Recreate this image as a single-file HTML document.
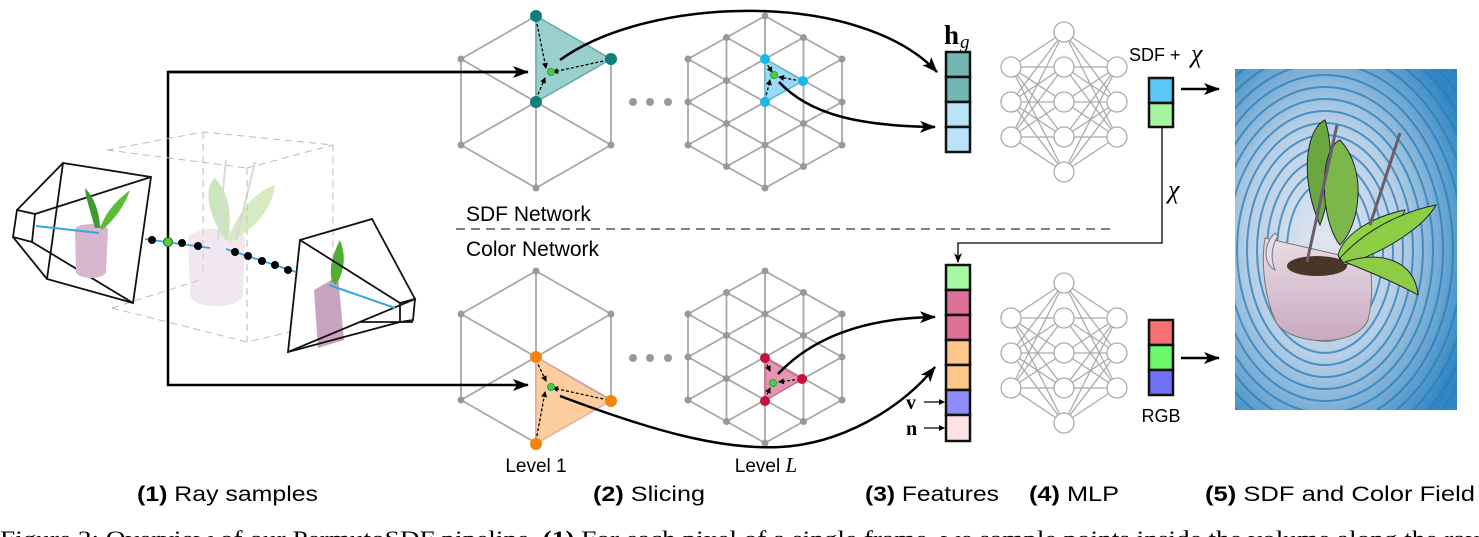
<!DOCTYPE html>
<html><head><meta charset="utf-8"><style>
html,body{margin:0;padding:0;background:#fff;overflow:hidden}
body{width:1479px;height:537px;position:relative;font-family:"Liberation Sans",sans-serif}
svg{position:absolute;left:0;top:0}
.cap{font-family:"Liberation Sans",sans-serif;font-size:21px;fill:#000}
</style></head><body>
<svg id="s" width="1479" height="537" viewBox="0 0 1479 537" xmlns="http://www.w3.org/2000/svg">
<defs>
<marker id="ah" markerWidth="10" markerHeight="8" refX="9" refY="4" orient="auto" markerUnits="userSpaceOnUse"><path d="M0,0 L10,4 L0,8 L3,4 z" fill="#000"/></marker>
<marker id="ahb" markerWidth="16" markerHeight="12" refX="15" refY="6" orient="auto" markerUnits="userSpaceOnUse"><path d="M0,0 L16,6 L0,12 L4,6 z" fill="#000"/></marker>
<marker id="ahs" markerWidth="6" markerHeight="6" refX="5" refY="3" orient="auto" markerUnits="userSpaceOnUse"><path d="M0,0 L6,3 L0,6 z" fill="#000"/></marker>
<radialGradient id="bg" cx="0.4" cy="0.5" r="0.7"><stop offset="0" stop-color="#e2e6f0"/><stop offset="0.5" stop-color="#b6cfe6"/><stop offset="1" stop-color="#2f86c4"/></radialGradient>
<linearGradient id="pot" x1="0" y1="0" x2="0" y2="1"><stop offset="0" stop-color="#e8dde4"/><stop offset="1" stop-color="#c9a9bf"/></linearGradient>
</defs>
<g id="grids" stroke="#a8a8a8" stroke-width="1.8" fill="none"></g>
<g id="dots" fill="#999"></g>

<polygon points="536,16 611,59 536,102" fill="#7fc4c0" fill-opacity="0.8" stroke="#5aa"/>
<polygon points="765,59 803,81 765,102" fill="#8fd6f5" fill-opacity="0.9" stroke="#4bc"/>
<polygon points="536,357 611,401 536,444" fill="#fcc994" fill-opacity="0.9" stroke="#e9a"/>
<polygon points="765,358 802,379 765,401" fill="#e08aa8" fill-opacity="0.9" stroke="#c57"/>
<g stroke="#000" stroke-width="1.3" stroke-dasharray="3,2" marker-end="url(#ahs)">
<line x1="536" y1="19" x2="546" y2="68"/><line x1="608" y1="60" x2="553" y2="72"/><line x1="536" y1="99" x2="545" y2="78"/>
<line x1="765" y1="61" x2="772" y2="72"/><line x1="801" y1="81" x2="779" y2="77"/><line x1="765" y1="100" x2="770" y2="80"/>
<line x1="536" y1="360" x2="546" y2="381"/><line x1="608" y1="400" x2="553" y2="388"/><line x1="536" y1="441" x2="545" y2="392"/>
<line x1="765" y1="360" x2="770" y2="371"/><line x1="800" y1="379" x2="779" y2="382"/><line x1="765" y1="399" x2="770" y2="388"/>
</g>
<g fill="#0f7f7b"><circle cx="536" cy="16" r="6"/><circle cx="611" cy="59" r="6"/><circle cx="536" cy="102" r="6"/></g>
<g fill="#1ab4ee"><circle cx="765" cy="59" r="5"/><circle cx="803" cy="81" r="5"/><circle cx="765" cy="102" r="5"/></g>
<g fill="#f7830f"><circle cx="536" cy="357" r="6"/><circle cx="611" cy="401" r="6"/><circle cx="536" cy="444" r="6"/></g>
<g fill="#c8113f"><circle cx="765" cy="358" r="5"/><circle cx="802" cy="379" r="5"/><circle cx="765" cy="401" r="5"/></g>
<g fill="#5cc63c" stroke="#1a4" stroke-width="1"><circle cx="551" cy="72" r="3.5"/><circle cx="774" cy="75" r="3.5"/><circle cx="551" cy="387" r="3.5"/><circle cx="773" cy="383" r="3.5"/></g>
<g fill="#999"><circle cx="633" cy="102" r="4"/><circle cx="650" cy="102" r="4"/><circle cx="668" cy="102" r="4"/><circle cx="633" cy="358" r="4"/><circle cx="650" cy="358" r="4"/><circle cx="668" cy="358" r="4"/></g>

<text x="536" y="472" font-size="19" text-anchor="middle">Level 1</text>
<text x="766" y="472" font-size="19" text-anchor="middle">Level <tspan font-family="Liberation Serif" font-style="italic" font-size="21">L</tspan></text>

<g stroke="#000" stroke-width="2.5" fill="none" marker-end="url(#ahb)">
<path d="M560,60 C650,-5 860,-10 937,72"/>
<path d="M779,82 C810,115 860,126 935,127"/>
<path d="M778,374 C810,340 860,318 935,317"/>
<path d="M560,396 C650,430 720,450 780,447 C840,444 900,410 935,367"/>
</g>

<g stroke="#000" stroke-width="2.5" fill="none">
<polyline points="528,72 168,72 168,385 528,385" marker-end="url(#ahb)"/>
<line x1="168" y1="72" x2="528" y2="72" marker-end="url(#ahb)"/>
</g>

<g stroke="#bbb" stroke-width="1" fill="none" stroke-dasharray="7,5">
<polyline points="107,150 203,132 333,145 333,290"/><line x1="107" y1="150" x2="247" y2="168"/><line x1="247" y1="168" x2="333" y2="145"/>
<line x1="247" y1="168" x2="247" y2="342"/><line x1="203" y1="132" x2="203" y2="275"/>
<polyline points="112,308 247,342 290,332"/><line x1="112" y1="308" x2="200" y2="280"/>
</g>
<g opacity="0.55">
<path d="M188,240 C188,225 245,225 245,240 L243,295 C240,310 192,310 190,295 Z" fill="#e6d6e2"/>
<path d="M225,240 C205,210 205,185 215,178 C230,195 232,215 228,240Z" fill="#a6d18a"/>
<path d="M228,240 C240,205 260,190 275,185 C272,210 255,228 230,242Z" fill="#b5dc8f"/>
<line x1="218" y1="240" x2="226" y2="160" stroke="#bbb" stroke-width="2"/><line x1="236" y1="240" x2="255" y2="162" stroke="#bbb" stroke-width="2"/>
</g>
<g stroke="#111" stroke-width="1.8" fill="none">
<polygon points="63,163 151,177 133,303 47,279"/>
<polygon points="17,210 35,214 32,242 13,237"/>
<line x1="17" y1="210" x2="63" y2="163"/><line x1="35" y1="214" x2="151" y2="177"/><line x1="32" y1="242" x2="133" y2="303"/><line x1="13" y1="237" x2="47" y2="279"/>
</g>
<path d="M75,230 C75,222 108,222 108,230 L106,272 C104,280 78,280 76,272Z" fill="#d7b7cd"/>
<path d="M95,228 C90,210 85,195 85,188 C95,198 100,215 100,228Z" fill="#3f9a2d"/>
<path d="M100,228 C108,208 118,200 130,190 C124,208 112,222 102,230Z" fill="#5dbb3a"/>
<line x1="36" y1="226" x2="99" y2="233" stroke="#33a8e0" stroke-width="2"/>
<path d="M314,290 L338,276 L344,340 L318,348Z" fill="#c8a4c0"/>
<path d="M332,282 C328,265 335,250 340,240 C346,255 345,270 336,285Z" fill="#4fae33"/>
<g stroke="#111" stroke-width="1.8" fill="none">
<polygon points="300,240 372,219 415,299 288,352"/>
<polygon points="400,303 415,299 413,320 400,322"/>
<line x1="300" y1="240" x2="400" y2="303"/><line x1="288" y1="352" x2="400" y2="322"/><line x1="360" y1="322" x2="413" y2="322"/>
</g>
<line x1="329" y1="285" x2="395" y2="308" stroke="#33a8e0" stroke-width="2"/>
<line x1="145" y1="239" x2="210" y2="248" stroke="#33a8e0" stroke-width="1.8"/>
<line x1="226" y1="249" x2="296" y2="272" stroke="#33a8e0" stroke-width="1.8"/>
<g fill="#000"><circle cx="152" cy="240" r="4"/><circle cx="182" cy="243" r="4"/><circle cx="198" cy="246" r="4"/><circle cx="235" cy="252" r="4"/><circle cx="248" cy="256" r="4"/><circle cx="262" cy="261" r="4"/><circle cx="275" cy="265" r="4"/><circle cx="288" cy="270" r="4"/></g>
<circle cx="168" cy="242" r="4.5" fill="#5cc63c" stroke="#163" stroke-width="1"/>

<text x="466" y="221" font-size="21">SDF Network</text>
<line x1="456" y1="229" x2="1116" y2="229" stroke="#333" stroke-width="1.2" stroke-dasharray="9,6"/>
<text x="466" y="256" font-size="21">Color Network</text>

<text x="944" y="44" font-family="Liberation Serif" font-weight="bold" font-size="27">h</text>
<text x="960" y="48" font-family="Liberation Serif" font-style="italic" font-size="19">g</text>
<g stroke="#111" stroke-width="2.5">
<rect x="946" y="52" width="24" height="25" fill="#73b7b2"/><rect x="946" y="77" width="24" height="25" fill="#73b7b2"/>
<rect x="946" y="102" width="24" height="25" fill="#b9e3f6"/><rect x="946" y="127" width="24" height="25" fill="#b9e3f6"/>
<rect x="946" y="265" width="24" height="25" fill="#a5f7a2"/><rect x="946" y="290" width="24" height="25" fill="#dc7096"/>
<rect x="946" y="315" width="24" height="25" fill="#dc7096"/><rect x="946" y="340" width="24" height="25" fill="#fdc68a"/>
<rect x="946" y="365" width="24" height="25" fill="#fdc68a"/><rect x="946" y="390" width="24" height="25" fill="#8d8cfa"/>
<rect x="946" y="415" width="24" height="26" fill="#fde2e3"/>
</g>
<text x="906" y="409" font-family="Liberation Serif" font-weight="bold" font-size="20">v</text>
<text x="906" y="435" font-family="Liberation Serif" font-weight="bold" font-size="20">n</text>
<g stroke="#000" stroke-width="1.3" marker-end="url(#ahs)"><line x1="924" y1="402" x2="944" y2="402"/><line x1="924" y1="428" x2="944" y2="428"/></g>

<g id="mlp" stroke="#aaa" stroke-width="1.3" fill="none"></g>

<text x="1129" y="61" font-size="18">SDF + </text>
<text x="1191" y="62" font-family="Liberation Serif" font-style="italic" font-size="26">χ</text>
<g stroke="#111" stroke-width="2.5"><rect x="1149" y="78" width="24" height="25" fill="#5bc8f5"/><rect x="1149" y="103" width="24" height="24" fill="#a3f5a0"/>
<rect x="1149" y="320" width="24" height="25" fill="#f87070"/><rect x="1149" y="345" width="24" height="25" fill="#6cf86c"/><rect x="1149" y="370" width="24" height="25" fill="#7070f8"/></g>
<text x="1161" y="422" font-size="18" text-anchor="middle">RGB</text>
<g stroke="#000" stroke-width="2.5" marker-end="url(#ahb)"><line x1="1181" y1="89" x2="1219" y2="89"/><line x1="1181" y1="358" x2="1219" y2="358"/></g>
<polyline points="1162,128 1162,243 958,243 958,262" stroke="#000" stroke-width="1.3" fill="none" marker-end="url(#ah)"/>
<text x="1168" y="198" font-family="Liberation Serif" font-style="italic" font-size="26">χ</text>

<rect x="1235" y="69" width="222" height="341" fill="url(#bg)"/>
<g id="rings" fill="none" stroke="#2a7cb6" stroke-width="2" opacity="0.75"></g>
<g>
<path d="M1265,238 C1262,255 1262,290 1275,320 C1285,345 1355,350 1368,320 C1373,300 1372,280 1370,262 Z" fill="url(#pot)" stroke="#776" stroke-width="1"/>
<ellipse cx="1317" cy="266" rx="30" ry="10" fill="#4a3628"/>
<path d="M1275,233 C1262,245 1264,265 1275,270 C1270,258 1272,245 1278,236Z" fill="#dde" stroke="#777" stroke-width="1"/>
<path d="M1325,120 C1305,130 1300,180 1320,225 C1330,200 1335,150 1325,120Z" fill="#6aa83f" stroke="#223" stroke-width="1"/>
<path d="M1340,140 C1318,150 1320,220 1340,245 C1360,225 1368,170 1340,140Z" fill="#7bb74a" stroke="#223" stroke-width="1"/>
<path d="M1338,255 C1345,230 1380,215 1405,210 C1400,225 1370,245 1340,260Z" fill="#8ed342" stroke="#223" stroke-width="1"/>
<path d="M1340,258 C1370,225 1410,210 1436,205 C1425,225 1390,250 1345,265Z" fill="#8ccd45" stroke="#223" stroke-width="1"/>
<path d="M1345,262 C1380,250 1415,260 1418,295 C1400,285 1370,272 1345,262Z" fill="#8ccd45" stroke="#223" stroke-width="1"/>
<line x1="1307" y1="262" x2="1337" y2="125" stroke="#6a5c6a" stroke-width="3"/>
<line x1="1370" y1="225" x2="1400" y2="133" stroke="#6a5c6a" stroke-width="3"/>
</g>

<text x="137" y="501" class="cap" textLength="181" lengthAdjust="spacingAndGlyphs"><tspan font-weight="bold">(1)</tspan> Ray samples</text>
<text x="593" y="501" class="cap" textLength="112" lengthAdjust="spacingAndGlyphs"><tspan font-weight="bold">(2)</tspan> Slicing</text>
<text x="865" y="501" class="cap" textLength="134" lengthAdjust="spacingAndGlyphs"><tspan font-weight="bold">(3)</tspan> Features</text>
<text x="1029" y="501" class="cap" textLength="90" lengthAdjust="spacingAndGlyphs"><tspan font-weight="bold">(4)</tspan> MLP</text>
<text x="1205" y="501" class="cap" textLength="270" lengthAdjust="spacingAndGlyphs"><tspan font-weight="bold">(5)</tspan> SDF and Color Field</text>
<text x="0" y="546" font-family="Liberation Serif" font-size="22" textLength="1479" lengthAdjust="spacingAndGlyphs">Figure 2: Overview of our PermutoSDF pipeline. <tspan font-weight="bold">(1)</tspan> For each pixel of a single frame, we sample points inside the volume along the ray</text>
</svg>
<script>
var NS="http://www.w3.org/2000/svg";
function el(p,t,a){var e=document.createElementNS(NS,t);for(var k in a)e.setAttribute(k,a[k]);p.appendChild(e);return e;}
var G=document.getElementById("grids"),D=document.getElementById("dots");
function coarse(cx,cy){var r=86,w=75;var v=[[cx,cy-r],[cx+w,cy-r/2],[cx+w,cy+r/2],[cx,cy+r],[cx-w,cy+r/2],[cx-w,cy-r/2]];
for(var i=0;i<6;i++){var a=v[i],b=v[(i+1)%6];el(G,"line",{x1:a[0],y1:a[1],x2:b[0],y2:b[1]});el(G,"line",{x1:cx,y1:cy,x2:a[0],y2:a[1]});el(D,"circle",{cx:a[0],cy:a[1],r:3.5});}}
function fine(cx,top){var dx=38.5,dy=43;var P={};
for(var i=-2;i<=2;i++){var n=5-Math.abs(i);for(var k=0;k<n;k++){P[i+","+k]=[cx+i*dx,top+Math.abs(i)*dy/2+k*dy];}}
function L(a,b){if(P[a]&&P[b])el(G,"line",{x1:P[a][0],y1:P[a][1],x2:P[b][0],y2:P[b][1]});}
for(var i=-2;i<=2;i++){var n=5-Math.abs(i);for(var k=0;k<n;k++){L(i+","+k,i+","+(k+1));
 if(i>=0){L(i+","+k,(i+1)+","+k);L(i+","+k,(i+1)+","+(k-1));}
 else{L(i+","+k,(i+1)+","+k);L(i+","+k,(i+1)+","+(k+1));}}}
for(var p in P)el(D,"circle",{cx:P[p][0],cy:P[p][1],r:3.5});}
coarse(536,102);coarse(536,357);fine(765,16);fine(765,271);
var M=document.getElementById("mlp");
function mlp(dy){var L1=[67,102,137],L2=[32,67,102,137,172];var xs=[1011,1064,1117];
L1.forEach(function(a){L2.forEach(function(b){el(M,"line",{x1:xs[0],y1:a+dy,x2:xs[1],y2:b+dy});el(M,"line",{x1:xs[2],y1:a+dy,x2:xs[1],y2:b+dy});});});
L1.forEach(function(a){el(M,"circle",{cx:xs[0],cy:a+dy,r:10,fill:"#fff"});el(M,"circle",{cx:xs[2],cy:a+dy,r:10,fill:"#fff"});});
L2.forEach(function(b){el(M,"circle",{cx:xs[1],cy:b+dy,r:10,fill:"#fff"});});}
mlp(0);mlp(251);
var R=document.getElementById("rings");
for(var i=1;i<22;i++){el(R,"ellipse",{cx:1325,cy:250,rx:28+i*10,ry:55+i*12});}
var cp=el(document.querySelector("defs"),"clipPath",{id:"ic"});el(cp,"rect",{x:1235,y:69,width:222,height:341});R.setAttribute("clip-path","url(#ic)");
</script>
</body></html>
